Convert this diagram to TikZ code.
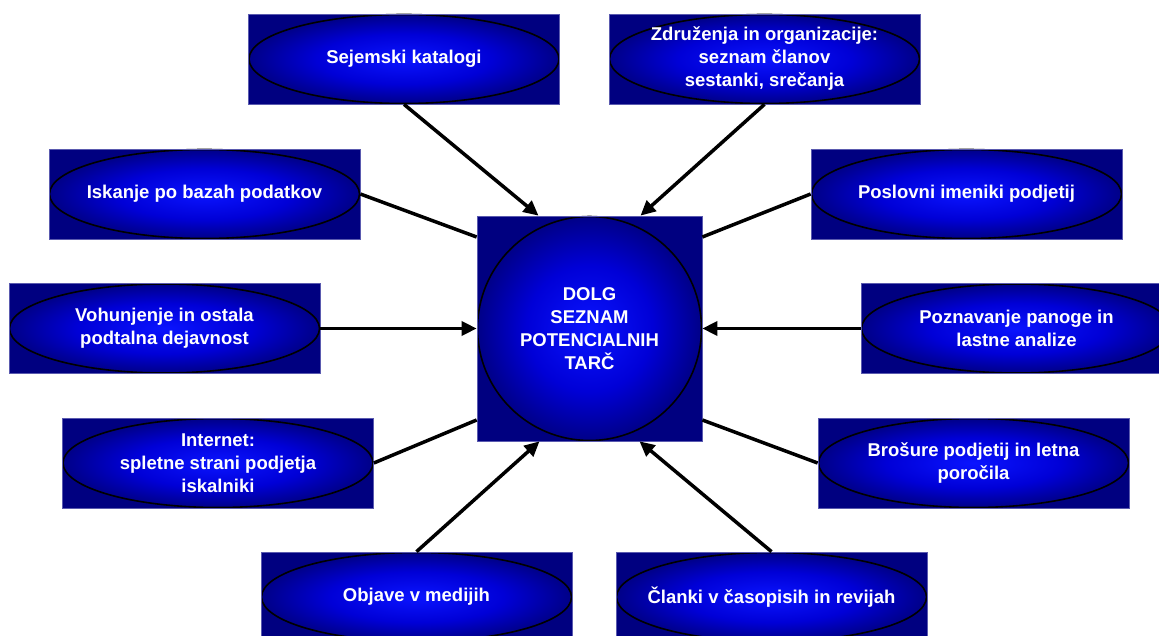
\documentclass[tikz,border=0pt]{standalone}
\usepackage{fontspec}
\setmainfont{Liberation Sans}
\usetikzlibrary{arrows.meta}
\definecolor{boxnavy}{RGB}{0,0,128}
\definecolor{boxedge}{RGB}{90,90,175}
\definecolor{glowin}{RGB}{10,20,255}
\definecolor{glowmid}{RGB}{0,0,215}
\definecolor{glowout}{RGB}{0,0,135}
\pgfdeclareradialshading{glow}{\pgfpointorigin}{color(0bp)=(glowin); color(14bp)=(glowmid); color(25bp)=(glowout); color(50bp)=(glowout)}
\tikzset{
  srcbox/.style 2 args={rectangle, fill=boxnavy, draw=boxedge, line width=0.7pt,
    minimum width=2*#1, minimum height=2*#2, inner sep=0pt, text=white,
    font=\bfseries\fontsize{18.5}{23}\selectfont, align=center,
    path picture={\shadedraw[shading=glow, draw=black, line width=1.6pt]
      (path picture bounding box.center) ellipse [x radius=#1-0.5pt, y radius=#2-0.5pt];}},
  feed/.style={line width=3.5pt, -{Triangle[length=15pt,width=14pt]}},
  link/.style={line width=3.5pt},
}
\begin{document}
\begin{tikzpicture}[x=1pt,y=-1pt]
\useasboundingbox (0,0) rectangle (1159,636);
\node[srcbox={155.5pt}{45pt}] (sejem) at (404,59) {Sejemski katalogi};
\node[srcbox={155.5pt}{45pt}] (zdruz) at (764.5,59) {Združenja in organizacije:\\seznam članov\\sestanki, srečanja};
\node[srcbox={155.5pt}{45pt}] (baze) at (204.5,194) {Iskanje po bazah podatkov};
\node[srcbox={155.5pt}{45pt}] (imeniki) at (966.5,194) {Poslovni imeniki podjetij};
\node[srcbox={155.5pt}{45pt}] (vohun) at (164.5,328.5) {Vohunjenje in ostala\\podtalna dejavnost};
\node[srcbox={155.5pt}{45pt}] (panoga) at (1016.5,328.5) {Poznavanje panoge in\\lastne analize};
\node[srcbox={155.5pt}{45pt}] (splet) at (218,463) {Internet:\\spletne strani podjetja\\iskalniki};
\node[srcbox={155.5pt}{45pt}] (brosure) at (973.5,463) {Brošure podjetij in letna\\poročila};
\node[srcbox={155.5pt}{45pt}] (mediji) at (416.5,597) {Objave v medijih};
\node[srcbox={155.5pt}{45pt}] (clanki) at (771.5,597) {Članki v časopisih in revijah};
\node[srcbox={112.5pt}{112.5pt}] (tarce) at (589.5,328.5) {DOLG\\SEZNAM\\POTENCIALNIH\\TARČ};
\draw[feed] (sejem.south) -- ([xshift=-51pt]tarce.north);
\draw[feed] (zdruz.south) -- ([xshift=51pt]tarce.north);
\draw[link] (baze.east) -- ([yshift=91.5pt]tarce.west);
\draw[link] (imeniki.west) -- ([yshift=91.5pt]tarce.east);
\draw[feed] (vohun.east) -- (tarce.west);
\draw[feed] (panoga.west) -- (tarce.east);
\draw[link] (splet.east) -- ([yshift=-91.5pt]tarce.west);
\draw[link] (brosure.west) -- ([yshift=-91.5pt]tarce.east);
\draw[feed] (mediji.north) -- ([xshift=-50pt]tarce.south);
\draw[feed] (clanki.north) -- ([xshift=50pt]tarce.south);
\end{tikzpicture}
\end{document}
